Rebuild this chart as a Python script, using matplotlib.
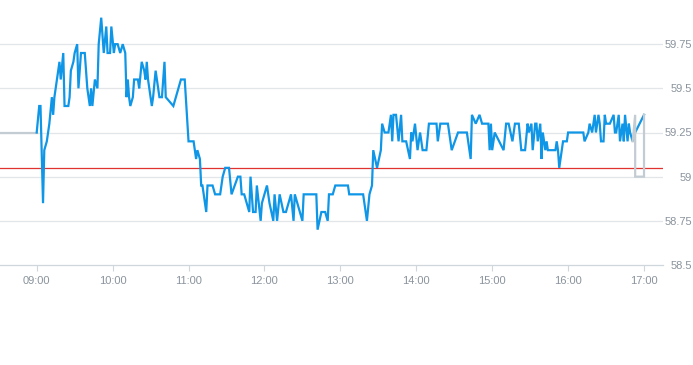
import matplotlib
matplotlib.use("Agg")
import matplotlib.pyplot as plt
import matplotlib.dates as mdates
import pandas as pd

plt.rcParams['font.family'] = ['Liberation Sans', 'DejaVu Sans']

day = "2024-01-02 "

# intraday trades (blue)
times = ["09:00", "09:02", "09:03", "09:05", "09:06", "09:08", "09:10", "09:12", "09:13", "09:14",
         "09:16", "09:18", "09:19", "09:21", "09:22", "09:25", "09:26", "09:27", "09:29", "09:30",
         "09:32", "09:33", "09:35", "09:38", "09:40", "09:42", "09:43", "09:44", "09:46", "09:48",
         "09:49", "09:51", "09:53", "09:55", "09:56", "09:58", "09:59", "10:01", "10:02", "10:04",
         "10:06", "10:08", "10:10", "10:11", "10:12", "10:13", "10:14", "10:16", "10:17", "10:20",
         "10:21", "10:23", "10:25", "10:26", "10:27", "10:28", "10:31", "10:32", "10:34", "10:35",
         "10:37", "10:39", "10:41", "10:42", "10:48", "10:54", "10:57", "11:00", "11:04", "11:06",
         "11:07", "11:09", "11:10", "11:11", "11:14", "11:15", "11:19", "11:21", "11:25", "11:27",
         "11:29", "11:32", "11:34", "11:39", "11:41", "11:42", "11:44", "11:48", "11:49", "11:51",
         "11:53", "11:54", "11:57", "11:58", "12:02", "12:04", "12:07", "12:08", "12:10", "12:12",
         "12:15", "12:17", "12:21", "12:23", "12:24", "12:30", "12:31", "12:41", "12:42", "12:45",
         "12:48", "12:50", "12:51", "12:54", "12:56", "13:06", "13:07", "13:18", "13:21", "13:23",
         "13:25", "13:26", "13:29", "13:32", "13:33", "13:35", "13:38", "13:40", "13:41", "13:42",
         "13:44", "13:46", "13:48", "13:49", "13:52", "13:55", "13:56", "13:57", "13:59", "14:01",
         "14:03", "14:05", "14:08", "14:10", "14:16", "14:17", "14:19", "14:25", "14:28", "14:33",
         "14:40", "14:43", "14:44", "14:47", "14:50", "14:52", "14:57", "14:58", "14:59", "15:00",
         "15:02", "15:09", "15:11", "15:13", "15:16", "15:18", "15:21", "15:23", "15:26", "15:28",
         "15:29", "15:31", "15:32", "15:34", "15:35", "15:36", "15:38", "15:39", "15:40", "15:42",
         "15:43", "15:44", "15:50", "15:51", "15:52", "15:53", "15:55", "15:56", "15:59", "16:00",
         "16:12", "16:13", "16:16", "16:17", "16:19", "16:21", "16:22", "16:24", "16:25", "16:26",
         "16:28", "16:29", "16:30", "16:33", "16:36", "16:37", "16:38", "16:40", "16:41", "16:43",
         "16:44", "16:45", "16:47", "16:48", "16:49", "16:51", "16:53", "17:00"]
prices = [59.25, 59.40, 59.40, 58.85, 59.15, 59.20, 59.30, 59.45, 59.35, 59.45,
          59.55, 59.65, 59.55, 59.70, 59.40, 59.40, 59.45, 59.60, 59.65, 59.70,
          59.75, 59.50, 59.70, 59.70, 59.50, 59.40, 59.50, 59.40, 59.55, 59.50,
          59.75, 59.90, 59.70, 59.85, 59.70, 59.70, 59.85, 59.70, 59.75, 59.75,
          59.70, 59.75, 59.70, 59.45, 59.55, 59.45, 59.40, 59.45, 59.55, 59.55,
          59.50, 59.65, 59.60, 59.55, 59.65, 59.55, 59.40, 59.45, 59.60, 59.55,
          59.45, 59.45, 59.65, 59.45, 59.40, 59.55, 59.55, 59.20, 59.20, 59.10,
          59.15, 59.10, 58.95, 58.95, 58.80, 58.95, 58.95, 58.90, 58.90, 59.00,
          59.05, 59.05, 58.90, 59.00, 59.00, 58.90, 58.90, 58.80, 59.00, 58.80,
          58.80, 58.95, 58.75, 58.85, 58.95, 58.85, 58.75, 58.90, 58.75, 58.90,
          58.80, 58.80, 58.90, 58.75, 58.90, 58.75, 58.90, 58.90, 58.70, 58.80,
          58.80, 58.75, 58.90, 58.90, 58.95, 58.95, 58.90, 58.90, 58.75, 58.90,
          58.95, 59.15, 59.05, 59.15, 59.30, 59.25, 59.25, 59.35, 59.20, 59.35,
          59.35, 59.20, 59.35, 59.20, 59.20, 59.10, 59.25, 59.20, 59.30, 59.15,
          59.25, 59.15, 59.15, 59.30, 59.30, 59.20, 59.30, 59.30, 59.15, 59.25,
          59.25, 59.10, 59.35, 59.30, 59.35, 59.30, 59.30, 59.15, 59.30, 59.15,
          59.25, 59.15, 59.30, 59.30, 59.20, 59.30, 59.30, 59.15, 59.15, 59.30,
          59.25, 59.30, 59.15, 59.30, 59.30, 59.20, 59.30, 59.10, 59.25, 59.15,
          59.20, 59.15, 59.15, 59.20, 59.15, 59.05, 59.15, 59.20, 59.20, 59.25,
          59.25, 59.20, 59.25, 59.30, 59.25, 59.35, 59.25, 59.35, 59.30, 59.20,
          59.20, 59.35, 59.30, 59.30, 59.35, 59.25, 59.25, 59.35, 59.20, 59.30,
          59.20, 59.35, 59.20, 59.30, 59.25, 59.20, 59.25, 59.35]

# pre-open / closing auction (grey)
pre_times = ["08:30", "09:00"]
pre_prices = [59.25, 59.25]
auct_times = ["16:51", "16:53", "16:53", "17:00", "17:00"]
auct_prices = [59.20, 59.35, 59.00, 59.00, 59.35]

prev_close = 59.05
yticks = [58.5, 58.75, 59, 59.25, 59.5, 59.75]
ytick_labels = ["58.5", "58.75", "59", "59.25", "59.5", "59.75"]
xtick_times = ["09:00", "10:00", "11:00", "12:00", "13:00", "14:00", "15:00", "16:00", "17:00"]


def to_dt(lst):
    return pd.to_datetime([day + t for t in lst])


fig = plt.figure(figsize=(6.93, 3.65), dpi=100, facecolor="w")
ax = fig.add_axes([0, 1 - 265 / 365, 663 / 693, 265 / 365])

grey = "#c4ccd3"
blue = "#0f96e6"
ax.plot(to_dt(times), prices, color=blue, lw=1.6, zorder=3, solid_joinstyle="miter")
ax.plot(to_dt(pre_times), pre_prices, color=grey, lw=1.6, zorder=2)
ax.plot(to_dt(auct_times), auct_prices, color=grey, lw=1.6, zorder=4, solid_joinstyle="miter")
ax.axhline(prev_close, color="#e0322f", lw=0.9, zorder=2)

ax.set_ylim(58.5, 60.0)
ax.set_xlim(pd.Timestamp(day + "08:31"), pd.Timestamp(day + "17:15"))

ax.set_yticks(yticks)
ax.set_yticklabels(ytick_labels)
ax.yaxis.tick_right()
ax.tick_params(axis="y", length=0, pad=21, labelsize=8, labelcolor="#8a939c")
for lbl in ax.get_yticklabels():
    lbl.set_horizontalalignment("right")

ax.set_xticks(to_dt(xtick_times))
ax.xaxis.set_major_formatter(mdates.DateFormatter("%H:%M"))
ax.tick_params(axis="x", length=4, width=0.8, color="#cfd6dc", pad=4,
               labelsize=8, labelcolor="#8a939c")

for v in yticks[1:]:
    ax.axhline(v, color="#e3e6e9", lw=0.9, zorder=1)

for s in ["top", "left", "right"]:
    ax.spines[s].set_visible(False)
ax.spines["bottom"].set_color("#cfd6dc")
ax.spines["bottom"].set_linewidth(0.9)

fig.savefig("out.png", dpi=100, facecolor="w")
